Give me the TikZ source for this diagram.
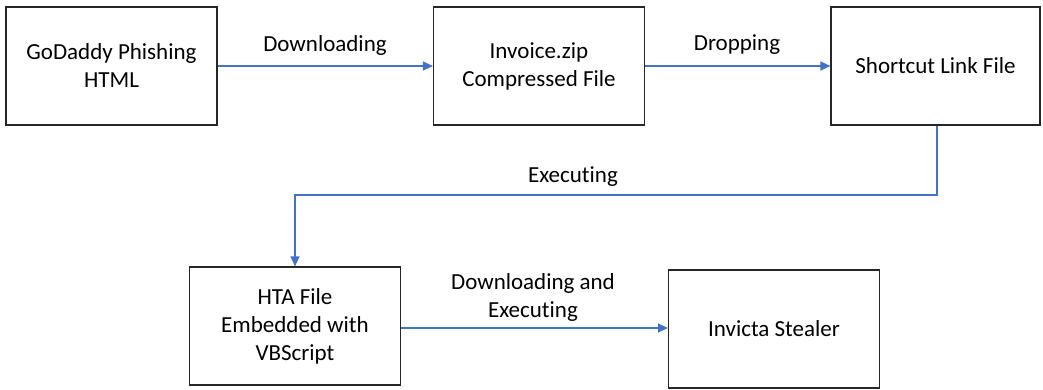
\documentclass[tikz,border=0pt]{standalone}
\usepackage{fontspec}
\setmainfont[RawFeature={-liga}]{Carlito}
\usetikzlibrary{arrows.meta}
\definecolor{linkblue}{HTML}{4472C4}
\definecolor{boxline}{HTML}{262626}
\begin{document}
\begin{tikzpicture}[x=1pt,y=-1pt,
  stepbox/.style={draw=boxline,line width=1.2pt,rectangle,minimum width=211pt,minimum height=118pt,align=center,inner sep=0pt,font=\fontsize{23}{28}\selectfont},
  conn/.style={draw=linkblue,line width=1.3pt,-{Triangle[length=10pt,width=9pt]}},
  lbl/.style={align=center,inner sep=0pt,font=\fontsize{23}{28}\selectfont}]
\useasboundingbox (0,0) rectangle (1043,390);
\node[stepbox] (b1) at (111.5,66) {GoDaddy Phishing\\HTML};
\node[stepbox] (b2) at (539,66) {Invoice.zip\\Compressed File};
\node[stepbox,minimum width=209pt] (b3) at (935.5,66) {Shortcut Link File};
\node[stepbox] (b4) at (295,326) {HTA File\\Embedded with\\VBScript};
\node[stepbox] (b5) at (774,329) {Invicta Stealer};
\coordinate (c1) at (937,195);
\coordinate (c2) at (295,195);
\draw[conn] (b1) -- (b2);
\draw[conn] (b2) -- (b3);
\draw[conn] (b3.south -| c1) -- (c1) -- (c2) -- (b4.north);
\draw[conn] (b4.east |- 0,328) -- (b5.west |- 0,328);
\node[lbl] (l1) at (325,45) {Downloading};
\node[lbl] (l2) at (737,45) {Dropping};
\node[lbl] (l3) at (573,177) {Executing};
\node[lbl] (l4) at (533,297) {Downloading and\\Executing};
\end{tikzpicture}
\end{document}
